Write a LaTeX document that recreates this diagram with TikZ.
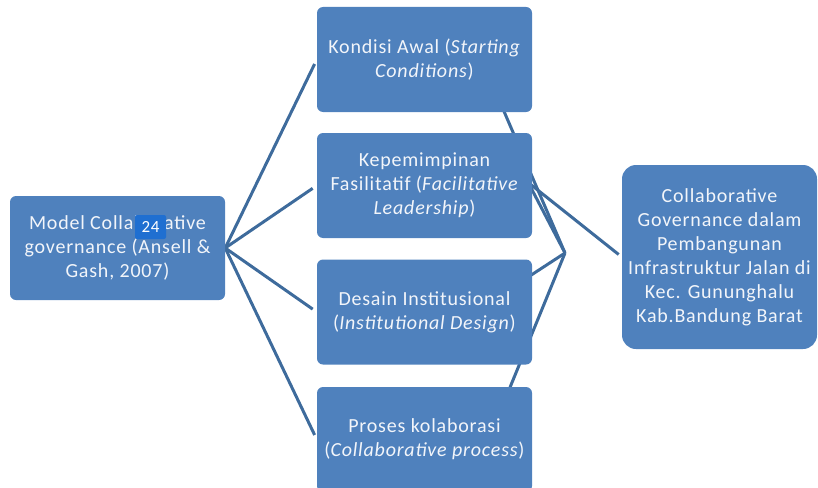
\documentclass[tikz,border=0pt]{standalone}
\usepackage{fontspec}
\setmainfont{Carlito}[LetterSpace=4]
\usetikzlibrary{calc,backgrounds}
\definecolor{boxblue}{HTML}{4F81BD}
\definecolor{linkblue}{HTML}{3E6B9C}
\definecolor{tagblue}{HTML}{1F6FD1}
\definecolor{textwhite}{HTML}{F2F5FA}
\tikzset{
  blok/.style={fill=boxblue,rounded corners=6pt,text=textwhite,align=center,
    inner sep=0pt,font=\fontsize{20}{24}\selectfont},
  tengah/.style={blok,minimum width=215pt,minimum height=105pt},
  garis/.style={draw=linkblue,line width=3pt},
}
\begin{document}
\begin{tikzpicture}[x=1pt,y=-1pt]
  \useasboundingbox (0,0) rectangle (818,487);
  \node[blok,minimum width=215pt,minimum height=104pt] (model) at (117.5,248)
    {Model Collaborative\\governance (Ansell \&\\Gash, 2007)};
  \node[tengah] (kondisi) at (424.5,59.5) {Kondisi Awal (\textit{Starting}\\\textit{Conditions})};
  \node[tengah] (kepemimpinan) at (424.5,185.5) {Kepemimpinan\\Fasilitatif (\textit{Facilitative}\\\textit{Leadership})};
  \node[tengah] (desain) at (424.5,312) {Desain Institusional\\(\textit{Institutional Design})};
  \node[tengah] (proses) at (424.5,439.5) {Proses kolaborasi\\(\textit{Collaborative process})};
  \node[blok,rounded corners=14pt,minimum width=195pt,minimum height=184pt] (hasil) at (719.5,257)
    {Collaborative\\Governance dalam\\Pembangunan\\Infrastruktur Jalan di\\Kec. Gununghalu\\Kab.Bandung Barat};
  \node[fill=tagblue,rounded corners=2pt,text=white,inner sep=0pt,font=\fontsize{17}{18}\selectfont,
    minimum width=31pt,minimum height=24pt] (tag) at (150.5,227) {24};
  \coordinate (temu) at (565,253);
  \begin{scope}[on background layer]
    % kiri ke tengah
    \foreach \n in {kondisi,kepemimpinan,desain,proses}
      \draw[garis,shorten >=5pt] (model.east) -- (\n.west);
    % tengah ke kanan
    \draw[garis] ($(kondisi.south east)+(-30,-5)$) -- (temu);
    \draw[garis] ($(kepemimpinan.east)+(-4,-3)$) -- (temu);
    \draw[garis] ($(desain.east)+(-4,-35)$) -- (temu);
    \draw[garis] ($(proses.north east)+(-24,5)$) -- (temu);
    \draw[garis,shorten >=4pt] ($(kepemimpinan.east)+(-4,-3)$) -- (hasil.west);
  \end{scope}
\end{tikzpicture}
\end{document}
